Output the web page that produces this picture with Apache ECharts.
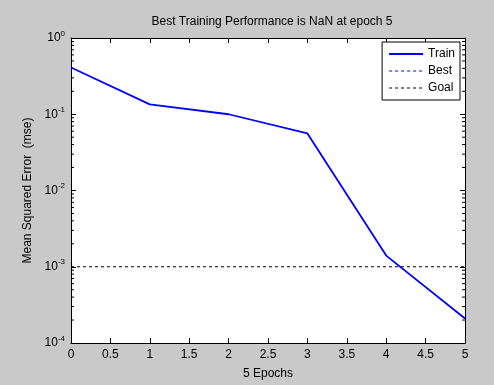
<!DOCTYPE html>
<html>
<head>
<meta charset="utf-8">
<script src="https://cdn.jsdelivr.net/npm/echarts@6/dist/echarts.min.js"></script>
<style>
  html, body { margin: 0; padding: 0; background: #c9c9c9; }
  #chart { width: 494px; height: 385px; }
</style>
</head>
<body>
<div id="chart"></div>
<script>
const epochs = [0, 1, 2, 3, 4, 5];
const trainMse = [0.41, 0.135, 0.1, 0.056, 0.0014, 0.00021];
const goal = 0.001;
const xTicks = [0, 0.5, 1, 1.5, 2, 2.5, 3, 3.5, 4, 4.5, 5];
const decades = [-4, -3, -2, -1];

// minor tick values of the log axis (2..9 x 10^e)
const minorTicks = [];
decades.forEach((e) => {
  for (let k = 2; k <= 9; k++) minorTicks.push(k * Math.pow(10, e));
});

const chart = echarts.init(document.getElementById("chart"));

const font = "Liberation Sans, Arial, sans-serif";

function supLabel(v) {
  const e = Math.round(Math.log10(v));
  return "{b|10}{s|" + e + "}";
}

const yCommon = {
  type: "log",
  min: 1e-4,
  max: 1,
  logBase: 10,
  axisLine: { show: true, onZero: false, lineStyle: { color: "#000", width: 1 } },
  axisTick: { show: true, inside: true, length: 5, lineStyle: { color: "#000" } },
  splitLine: { show: false },
};

const option = {
  backgroundColor: "#c9c9c9",
  animation: false,
  textStyle: { fontFamily: font },
  title: {
    text: "Best Training Performance is NaN at epoch 5",
    left: 267,
    top: 11,
    textAlign: "center",
    textStyle: { fontSize: 12, fontWeight: "normal", color: "#000", fontFamily: font },
  },
  grid: { left: 71, right: 29, top: 38, bottom: 41, backgroundColor: "#fff", show: true, borderWidth: 0 },
  legend: {
    orient: "vertical",
    right: 34,
    top: 42,
    backgroundColor: "#fff",
    borderColor: "#000",
    borderWidth: 1,
    padding: [6, 5, 6, 6],
    itemGap: 5,
    itemWidth: 34,
    itemHeight: 14,
    itemStyle: { opacity: 0 },
    textStyle: { fontSize: 12, color: "#000", fontFamily: font },
    data: [
      { name: "Train", lineStyle: { width: 2 } },
      { name: "Best", lineStyle: { width: 1 } },
      { name: "Goal", lineStyle: { width: 1 } },
    ],
  },
  xAxis: [
    {
      type: "value",
      min: 0,
      max: 5,
      interval: 0.5,
      name: "5 Epochs",
      nameLocation: "middle",
      nameGap: 25,
      nameTextStyle: { fontSize: 12, color: "#000" },
      axisLine: { show: true, onZero: false, lineStyle: { color: "#000" } },
      axisTick: { show: true, inside: true, length: 5, lineStyle: { color: "#000" } },
      axisLabel: {
        color: "#000",
        fontSize: 12,
        margin: 6,
        formatter: (v) => (xTicks.includes(v) ? String(v) : ""),
      },
      splitLine: { show: false },
    },
    {
      type: "value",
      position: "top",
      min: 0,
      max: 5,
      interval: 0.5,
      axisLine: { show: true, onZero: false, lineStyle: { color: "#000" } },
      axisTick: { show: true, inside: true, length: 5, lineStyle: { color: "#000" } },
      axisLabel: { show: false },
      splitLine: { show: false },
    },
  ],
  yAxis: [
    Object.assign({}, yCommon, {
      name: "Mean Squared Error  (mse)",
      nameLocation: "middle",
      nameGap: 37,
      nameTextStyle: { fontSize: 12, color: "#000" },
      axisLabel: {
        color: "#000",
        margin: 6,
        formatter: supLabel,
        rich: {
          b: { fontSize: 12, color: "#000", fontFamily: font },
          s: { fontSize: 8, color: "#000", fontFamily: font, padding: [0, 0, 9, 0] },
        },
      },
    }),
    Object.assign({}, yCommon, {
      position: "right",
      axisLabel: { show: false },
    }),
  ],
  series: [
    {
      name: "Train",
      type: "line",
      data: epochs.map((e, i) => [e, trainMse[i]]),
      symbol: "none",
      lineStyle: { color: "#0000ff", width: 1.8 },
      itemStyle: { color: "#0000ff" },
      z: 5,
    },
    {
      name: "Best",
      type: "line",
      data: [],
      symbol: "none",
      lineStyle: { color: "#0000ff", width: 1, type: [3, 3] },
      itemStyle: { color: "#0000ff" },
    },
    {
      name: "Goal",
      type: "line",
      data: [[epochs[0], goal], [epochs[epochs.length - 1], goal]],
      symbol: "none",
      lineStyle: { color: "#000", width: 1, type: [3, 3] },
      itemStyle: { color: "#000" },
    },
    {
      name: "minor",
      type: "custom",
      silent: true,
      clip: false,
      data: minorTicks.map((v) => [0, v]),
      renderItem: (params, api) => {
        const v = api.value(1);
        const l = api.coord([0, v]);
        const r = api.coord([5, v]);
        return {
          type: "group",
          children: [
            { type: "line", shape: { x1: l[0], y1: l[1], x2: l[0] + 3, y2: l[1] }, style: { stroke: "#000", lineWidth: 1 } },
            { type: "line", shape: { x1: r[0] - 3, y1: r[1], x2: r[0], y2: r[1] }, style: { stroke: "#000", lineWidth: 1 } },
          ],
        };
      },
      z: 1,
    },
  ],
};

chart.setOption(option);
</script>
</body>
</html>
